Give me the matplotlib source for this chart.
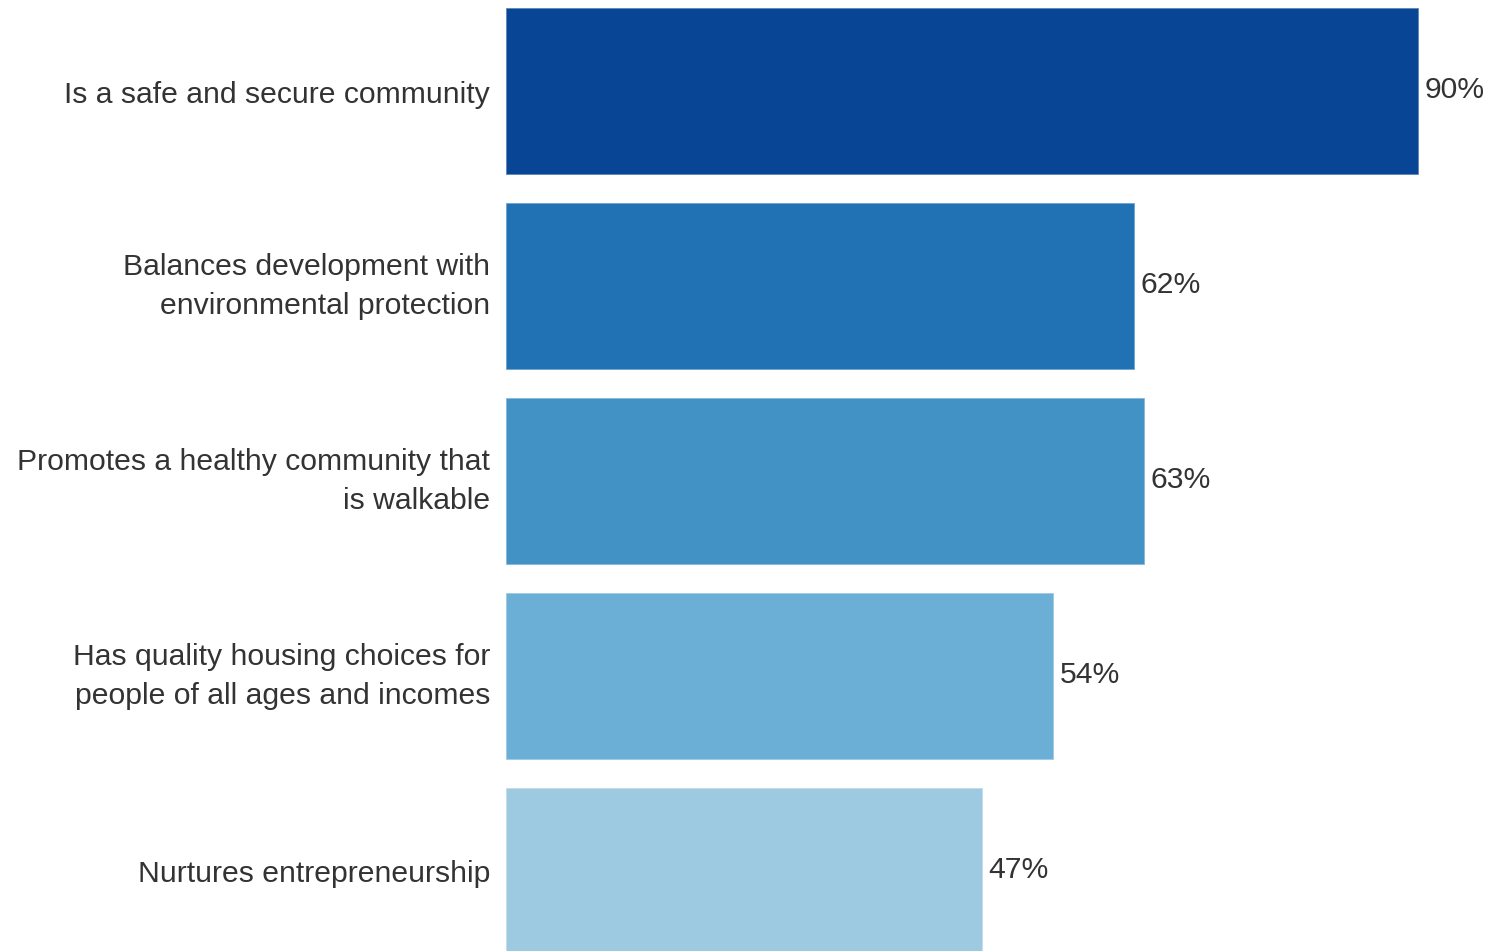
import numpy as np
import matplotlib.pyplot as plt

plt.rcParams['font.family'] = ['Liberation Sans', 'DejaVu Sans']

# survey answers, top to bottom
labels = [
    'Is a safe and secure community',
    'Balances development with\nenvironmental protection',
    'Promotes a healthy community that\nis walkable',
    'Has quality housing choices for\npeople of all ages and incomes',
    'Nurtures entrepreneurship',
]
values = [90, 62, 63, 54, 47]
colors = ['#084594', '#2171b5', '#4292c6', '#6baed6', '#9ecae1']

W, H, DPI = 1512, 951, 100
fig = plt.figure(figsize=(W / DPI, H / DPI), dpi=DPI)

# plot area starts where the bars start; tick labels sit to its left
x0 = 506
ax = fig.add_axes([x0 / W, 0, (W - x0) / W, 1])
px_per_pct = (1419 - x0) / 90.0
ax.set_xlim(0, (W - x0) / px_per_pct)
pitch = 195.0
ax.set_ylim((H - 91.5) / pitch, -91.5 / pitch)

ypos = np.arange(len(labels))
ax.barh(ypos, values, height=167 / pitch, color=colors,
        edgecolor=(1, 1, 1, 0.45), linewidth=1.2)

fs = 21.7
for y, v in zip(ypos, values):
    ax.text(v + 0.55, y - 0.01, f'{v}%', va='center', ha='left',
            fontsize=fs, color='#333333')

ax.set_yticks(ypos)
ax.set_yticklabels(labels, fontsize=fs, color='#333333', linespacing=1.48)
# two-line labels: center the whole block on the bar
for t in ax.get_yticklabels():
    if '\n' in t.get_text():
        t.set_va('center')
ax.tick_params(axis='y', length=0, pad=11.5)
ax.set_xticks([])
for s in ax.spines.values():
    s.set_visible(False)

fig.savefig('out.png', dpi=DPI)
